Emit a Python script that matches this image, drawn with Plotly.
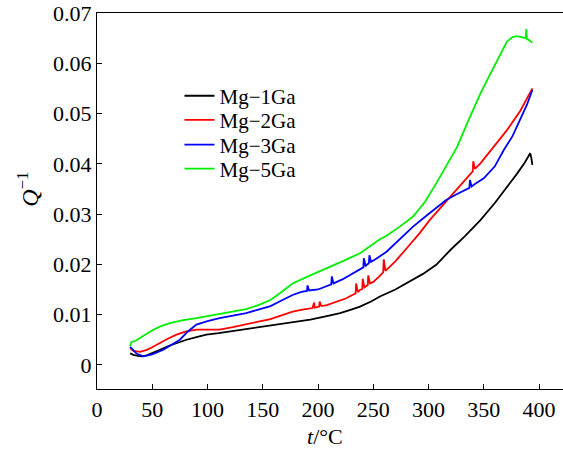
import plotly.graph_objects as go

# ---- data ----
t_mg1 = [30, 33, 37, 41, 45, 50, 57, 64, 70, 75, 81, 90, 99, 110, 126, 140, 157, 175, 193, 208, 220, 230, 238, 248,
         256, 270, 283, 295, 307, 320, 333, 347, 360, 370, 380, 387, 392, 393, 394]
q_mg1 = [0.0023, 0.0020, 0.0018, 0.0017, 0.0019, 0.0023, 0.0030, 0.0037, 0.0042, 0.0046, 0.0050, 0.0055, 0.0060,
         0.0063, 0.0068, 0.0073, 0.0078, 0.0084, 0.0090, 0.0097, 0.0103, 0.0110, 0.0116, 0.0126, 0.0136, 0.0150,
         0.0166, 0.0181, 0.0199, 0.0229, 0.0256, 0.0288, 0.0322, 0.0350, 0.0380, 0.0402, 0.0421, 0.0412, 0.0398]

t_mg2 = [30, 33, 39, 45, 50, 57, 64, 72, 80, 90, 100, 111, 123, 135, 146, 157, 167, 177, 186, 195, 196.5, 197, 199,
         201, 201.5, 203, 208, 216, 225, 232, 234, 234.5, 236, 238, 240, 240.5, 242, 245, 245.5, 247, 250, 255,
         259, 259.5, 261, 262, 270, 283, 292, 301, 313, 325, 336, 340, 340.5, 342, 347, 359, 371, 383, 394]
q_mg2 = [0.0033, 0.0028, 0.0026, 0.0030, 0.0035, 0.0044, 0.0052, 0.0060, 0.0066, 0.0070, 0.0070, 0.0070, 0.0075,
         0.0080, 0.0086, 0.0091, 0.0098, 0.0106, 0.0110, 0.0113, 0.0124, 0.0114, 0.0115, 0.0116, 0.0126, 0.0117,
         0.0119, 0.0125, 0.0132, 0.0140, 0.0142, 0.0162, 0.0145, 0.0149, 0.0151, 0.0171, 0.0154, 0.0159, 0.0178,
         0.0162, 0.0165, 0.0175, 0.0184, 0.0210, 0.0187, 0.0189, 0.0206, 0.0239, 0.0262, 0.0288, 0.0318, 0.0348,
         0.0376, 0.0385, 0.0405, 0.0390, 0.0401, 0.0434, 0.0467, 0.0505, 0.0550]

t_mg3 = [30, 33, 36, 42, 50, 60, 68, 75, 82, 90, 100, 111, 123, 135, 146, 157, 167, 177, 185, 190, 190.5, 192, 200,
         208, 212, 212.5, 214, 222, 230, 238, 241, 241.5, 243, 246, 246.5, 248, 252, 262, 274, 286, 300, 316, 325,
         330, 334, 337, 337.5, 339, 342, 350, 360, 368, 376, 383, 389, 394]
q_mg3 = [0.0036, 0.0028, 0.0022, 0.0017, 0.0021, 0.0030, 0.0040, 0.0050, 0.0066, 0.0080, 0.0087, 0.0093, 0.0098,
         0.0103, 0.0110, 0.0117, 0.0128, 0.0139, 0.0145, 0.0147, 0.0158, 0.0148, 0.0150, 0.0156, 0.0160, 0.0176,
         0.0162, 0.0170, 0.0180, 0.0189, 0.0194, 0.0212, 0.0197, 0.0202, 0.0218, 0.0205, 0.0210, 0.0225, 0.0250,
         0.0275, 0.0300, 0.0328, 0.0339, 0.0344, 0.0348, 0.0352, 0.0368, 0.0355, 0.0360, 0.0371, 0.0395, 0.0427,
         0.0455, 0.0487, 0.0517, 0.0547]

t_mg5 = [30, 30.5, 31, 35, 39, 45, 51, 58, 66, 78, 90, 103, 117, 126, 135, 146, 157, 167, 177, 192, 208, 223, 238,
         250, 256, 262, 274, 286, 297, 307, 316, 326, 336, 347, 355, 362, 367, 371, 376, 380, 384, 388, 388.5,
         389, 391, 394]
q_mg5 = [0.0037, 0.0044, 0.0045, 0.0048, 0.0054, 0.0062, 0.0070, 0.0077, 0.0083, 0.0089, 0.0093, 0.0098, 0.0103,
         0.0107, 0.0111, 0.0119, 0.0129, 0.0145, 0.0162, 0.0177, 0.0192, 0.0207, 0.0222, 0.0240, 0.0250, 0.0257,
         0.0275, 0.0295, 0.0325, 0.0361, 0.0397, 0.0434, 0.0486, 0.0540, 0.0575, 0.0606, 0.0628, 0.0643, 0.0652,
         0.0654, 0.0652, 0.0650, 0.0668, 0.0648, 0.0646, 0.0641]

series_names = ["Mg\u22121Ga", "Mg\u22122Ga", "Mg\u22123Ga", "Mg\u22125Ga"]
series_t = [t_mg1, t_mg2, t_mg3, t_mg5]
series_q = [q_mg1, q_mg2, q_mg3, q_mg5]
colors = ["#000000", "#ff0000", "#0000ff", "#00ee00"]

x_ticks = [0, 50, 100, 150, 200, 250, 300, 350, 400]
y_ticks = [0, 0.01, 0.02, 0.03, 0.04, 0.05, 0.06, 0.07]
y_ticklabels = ["0", "0.01", "0.02", "0.03", "0.04", "0.05", "0.06", "0.07"]

FONT = "Liberation Serif, Times New Roman, Tinos, serif"

legend_ids = ["legend", "legend2", "legend3", "legend4"]
legend_y = [0.779, 0.715, 0.649, 0.585]

fig = go.Figure()
for name, tt, qq, c, lid in zip(series_names, series_t, series_q, colors, legend_ids):
    fig.add_trace(go.Scatter(x=tt, y=qq, mode="lines", name=name, legend=lid,
                             line=dict(color=c, width=1.8)))

layout_legends = {}
for lid, ly in zip(legend_ids, legend_y):
    layout_legends[lid] = dict(x=0.177, y=ly, xanchor="left", yanchor="middle",
                               bgcolor="rgba(0,0,0,0)", font=dict(family=FONT, size=21),
                               itemwidth=30)

fig.update_layout(
    width=563, height=450,
    margin=dict(l=97, r=0, t=13, b=61),
    paper_bgcolor="white", plot_bgcolor="white",
    font=dict(family=FONT, size=22, color="black"),
    showlegend=True,
    **layout_legends,
)
fig.update_xaxes(range=[0, 421.7], tickvals=x_ticks, ticks="inside", ticklen=5,
                 tickcolor="black", showline=True, linecolor="black", linewidth=1.3,
                 mirror=True, showgrid=False, zeroline=False,
                 tickfont=dict(family=FONT, size=22))
fig.update_yaxes(range=[-0.0048, 0.07], tickvals=y_ticks, ticktext=y_ticklabels,
                 ticks="inside", ticklen=5, tickcolor="black", showline=True,
                 linecolor="black", linewidth=1.3, showgrid=False, zeroline=False,
                 tickfont=dict(family=FONT, size=22))

fig.add_annotation(text="<i>t</i>/°C", xref="paper", yref="paper", x=0.49, y=-0.125,
                   xanchor="center", yanchor="middle", showarrow=False,
                   font=dict(family=FONT, size=22))
fig.add_annotation(text="<i>Q</i><sup>\u22121</sup>", xref="paper", yref="paper",
                   x=-0.148, y=0.53, textangle=-90, xanchor="center", yanchor="middle",
                   showarrow=False, font=dict(family=FONT, size=24))

fig.write_html("out.html")
